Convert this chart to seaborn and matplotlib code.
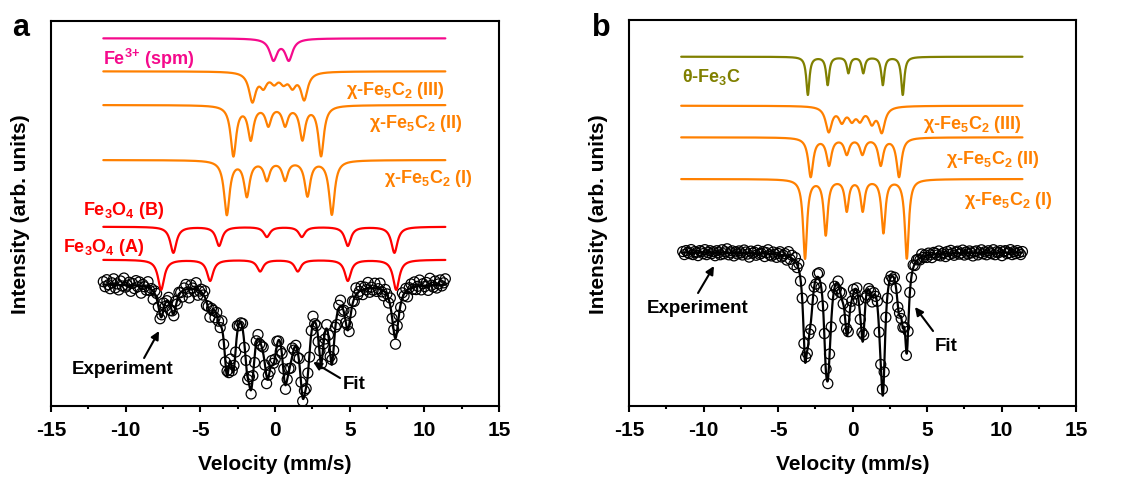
import numpy as np
import pandas as pd
import matplotlib
matplotlib.use('Agg')
import matplotlib.pyplot as plt
from matplotlib.ticker import MultipleLocator
import seaborn as sns

# ---- data: sextet / doublet line positions (mm/s), line depths, line widths ----
# panel a
spm_pos = [-0.11, 0.92]
spm_amp = [21, 21]
spm_w = 0.6
a_III_pos = [-1.52, -0.78, -0.06, 0.56, 1.16, 1.95]
a_III_amp = [29, 13, 9, 9, 13, 27]
a_III_w = 0.55
a_II_pos = [-2.79, -1.63, -0.45, 0.67, 1.83, 3.08]
a_II_amp = [50, 33, 19, 19, 33, 50]
a_II_w = 0.45
a_I_pos = [-3.23, -1.89, -0.55, 0.67, 2.17, 3.80]
a_I_amp = [54, 35, 19, 19, 35, 54]
a_I_w = 0.45
mag_B_pos = [-6.81, -3.75, -0.55, 1.79, 4.87, 7.99]
mag_B_amp = [26, 19, 10, 10, 19, 26]
mag_B_w = 0.5
mag_A_pos = [-7.63, -4.35, -1.0, 1.52, 4.87, 8.11]
mag_A_amp = [30, 21, 11.5, 11.5, 21, 30]
mag_A_w = 0.5
# weight of each component (spm, III, II, I, B, A) in the total fit
fit_wt_a = [1.7, 1.27, 1.27, 1.27, 1.0, 1.0]

# panel b
cem_pos = [-3.0, -1.67, -0.28, 0.72, 2.03, 3.37]
cem_amp = [38, 28, 16, 16, 28, 38]
cem_w = 0.25
b_III_pos = [-1.60, -0.72, -0.05, 0.50, 1.29, 1.96]
b_III_amp = [25, 14, 12, 12, 15, 25]
b_III_w = 0.5
b_II_pos = [-2.81, -1.58, -0.39, 0.66, 1.89, 3.12]
b_II_amp = [39, 27, 16, 16, 27, 39]
b_II_w = 0.4
b_I_pos = [-3.19, -1.80, -0.39, 0.68, 2.07, 3.64]
b_I_amp = [79, 55, 31, 31, 53, 79]
b_I_w = 0.32
# weight of each component (theta, III, II, I) in the total fit
fit_wt_b = [0.85, 1.6, 1.1, 1.1]

noise_a = [3, -2, 5, 0, -4, 2, 6, -3, 1, -5, 4, -1, 7, -2, 0, 3, -6, 2, -3, 5,
           -1, 4, -7, 2, 0, -3, 6, -2, 1, -8, 3, 5, -1, -4, 2, 7, -3, 0, 4, -5,
           1, -2, 6, -4, 3, 0, -6, 2, 5, -3, -9, 4, 1, -2, 7, -5, 0, 3, -1, 6,
           -4, 2, -3, 5, 0, -7, 3, 1, -2, 8, -4, 0, 5, -6, 2, -1, 4, -3, 6, -2,
           0, 5, -5, 3, -2, 9, -4, 1, -6, 2, 4, -3, 0, 6, -1, -7, 3, -2, 5, 1,
           -3, 4, -1, -8, 2, 6, -4, 0, 3, -5, 7, -2, 1, -6, 4, 0, -3, 5, -1, 2,
           -5, 3, 8, -2, 0, -4, 6, -1, 2, -7, 4, 1, -3, 5, -2, 0, -10, 3, 6, -4,
           2, -1, 5, -6, 1, 3, -3, 7, -2, 0, 4, -5, 2, -1, 6, -4, 1, -2, 5, -3,
           0, 6, -2, -5, 3, 1, -4, 8, -1, 2, -6, 4, 0, -3, 5, -2, 3, -7, 1, 4,
           -2, 5, -3, 0, 6, -4, 2, -1, 3, -5, 7, 0, -2, 4, -3, 1, 5, -1, 2, 6]
noise_b = [1, -2, 2, 0, -1, 3, -2, 1, 0, -3, 2, 1, -1, 3, -2, 0, 2, -1, 1, -3,
           2, 0, -2, 3, -1, 1, 4, -2, 0, 2, -3, 1, -1, 2, 0, -2, 3, 1, -1, -4,
           2, 0, 1, -2, 3, -1, 0, 2, -3, 1, 4, -1, -2, 2, 0, -3, 1, 3, -2, 0,
           2, -4, 5, -2, 3, -5, 4, -3, 6, -2, 1, -4, 5, -3, 2, -6, 4, 0, -5, 3,
           6, -2, -4, 3, 5, -3, 2, -5, 4, 1, -6, 3, -2, 5, 0, -4, 6, -3, 2, -1,
           4, -5, 3, 0, -3, 5, -2, 6, -4, 1, 3, -5, 2, -1, 4, -3, 0, 5, -2, 3,
           -4, 2, 1, -3, 2, 0, -2, 3, -1, 1, 2, -3, 0, 2, -1, 3, -2, 1, 0, -2,
           3, -1, 1, -2, 2, 0, -3, 2, 1, -1, 3, -2, 0, 1, -3, 2, -1, 3, 0, -2,
           1, 2, -1, 0, 3, -2, 1, -1, 2, 0, -3, 1, 2, -2, 0, 3, -1, 1, -2, 2,
           0, -1, 3, -2, 1, 0, 2, -3, 1, 2, -1, 0, 3, -2, 1, -1, 2, 0, -2, 1]


def lines(v, pos, amp, w):
    hw = (w / 2) ** 2
    out = np.zeros_like(v)
    for p, a in zip(pos, amp):
        out += a * hw / ((v - p) ** 2 + hw)
    return out


sns.set_theme(style='ticks')
plt.rcParams['font.family'] = ['Liberation Sans', 'DejaVu Sans']
plt.rcParams['font.weight'] = 'bold'
plt.rcParams['text.color'] = 'black'
plt.rcParams['axes.labelcolor'] = 'black'
plt.rcParams['xtick.color'] = 'black'
plt.rcParams['axes.unicode_minus'] = False
plt.rcParams['mathtext.fontset'] = 'custom'
plt.rcParams['mathtext.rm'] = 'Liberation Sans:bold'
plt.rcParams['mathtext.bf'] = 'Liberation Sans:bold'
plt.rcParams['mathtext.it'] = 'Liberation Sans:bold'
plt.rcParams['mathtext.default'] = 'bf'

ORANGE = '#FF8000'
RED = '#FF0000'
PINK = '#F50A8C'
OLIVE = '#808000'

fig = plt.figure(figsize=(11.32, 4.81), dpi=100)
ax_a = fig.add_axes([0.0451, 0.1538, 0.3958, 0.8004])
ax_b = fig.add_axes([0.5557, 0.1538, 0.3949, 0.8025])

v = np.linspace(-11.5, 11.4, 1500)

comps_a = [
    (spm_pos, spm_amp, spm_w, 367.7, PINK),
    (a_III_pos, a_III_amp, a_III_w, 334.7, ORANGE),
    (a_II_pos, a_II_amp, a_II_w, 301.0, ORANGE),
    (a_I_pos, a_I_amp, a_I_w, 246.0, ORANGE),
    (mag_B_pos, mag_B_amp, mag_B_w, 179.3, RED),
    (mag_A_pos, mag_A_amp, mag_A_w, 146.3, RED),
]
comps_b = [
    (cem_pos, cem_amp, cem_w, 349.3, OLIVE),
    (b_III_pos, b_III_amp, b_III_w, 300.3, ORANGE),
    (b_II_pos, b_II_amp, b_II_w, 268.7, ORANGE),
    (b_I_pos, b_I_amp, b_I_w, 227.0, ORANGE),
]


def total(x, comps, wts):
    return sum(k * lines(x, p, a, w) for (p, a, w, _, _), k in zip(comps, wts))


def draw_panel(ax, comps, base, wts, noise, vlo, vhi):
    for pos, amp, w, off, col in comps:
        sns.lineplot(x=v, y=off - lines(v, pos, amp, w), ax=ax, color=col,
                     lw=1.6, estimator=None, sort=False)
    ve = np.linspace(vlo, vhi, len(noise))
    exp = pd.DataFrame({'v': ve,
                        'y': base - total(ve, comps, wts) + np.array(noise)})
    sns.scatterplot(data=exp, x='v', y='y', ax=ax, marker='o', s=52,
                    facecolors='none', edgecolor='black', linewidth=0.9)
    sns.lineplot(x=v, y=base - total(v, comps, wts), ax=ax, color='black',
                 lw=1.6, estimator=None, sort=False)


draw_panel(ax_a, comps_a, 122.0, fit_wt_a, noise_a, -11.5, 11.4)
draw_panel(ax_b, comps_b, 153.7, fit_wt_b, noise_b, -11.4, 11.4)

ax_a.set_ylim(0, 385)
ax_b.set_ylim(0, 386)

for ax in (ax_a, ax_b):
    ax.set_xlim(-15, 15)
    ax.xaxis.set_major_locator(MultipleLocator(5))
    ax.xaxis.set_minor_locator(MultipleLocator(2.5))
    ax.set_yticks([])
    ax.tick_params(axis='x', which='major', direction='out', length=4,
                   width=1.5, labelsize=15, pad=6, colors='black')
    ax.tick_params(axis='x', which='minor', direction='out', length=2.5,
                   width=1.5, colors='black')
    for lab in ax.get_xticklabels():
        lab.set_fontweight('bold')
    for s in ax.spines.values():
        s.set_linewidth(1.5)
        s.set_color('black')
    ax.set_xlabel('Velocity (mm/s)', fontsize=15, fontweight='bold')
    ax.set_ylabel('Intensity (arb. units)', fontsize=15, fontweight='bold')
    ax.xaxis.set_label_coords(0.5, -0.125)
    ax.yaxis.set_label_coords(-0.047, 0.5)

# ---- labels panel a ----
lab_kw = dict(fontsize=13, fontweight='bold', va='center')
ax_a.text(-11.52, 348, 'Fe$^{3{+}}$ (spm)', color=PINK, ha='left', **lab_kw)
ax_a.text(11.39, 317, 'χ-Fe$_5$C$_2$ (III)', color=ORANGE, ha='right', **lab_kw)
ax_a.text(12.59, 284, 'χ-Fe$_5$C$_2$ (II)', color=ORANGE, ha='right', **lab_kw)
ax_a.text(13.26, 229, 'χ-Fe$_5$C$_2$ (I)', color=ORANGE, ha='right', **lab_kw)
ax_a.text(-12.86, 197, 'Fe$_3$O$_4$ (B)', color=RED, ha='left', **lab_kw)
ax_a.text(-14.2, 160, 'Fe$_3$O$_4$ (A)', color=RED, ha='left', **lab_kw)

arrow = dict(arrowstyle='-|>', color='black', lw=1.5, mutation_scale=12,
             shrinkA=0, shrinkB=0)
note_kw = dict(fontsize=13.5, fontweight='bold', ha='center', va='center',
               color='black')
ax_a.text(-10.18, 38, 'Experiment', **note_kw)
ax_a.annotate('', xy=(-7.77, 75), xytext=(-8.77, 48), arrowprops=arrow)
ax_a.text(5.29, 23, 'Fit', **note_kw)
ax_a.annotate('', xy=(2.55, 44), xytext=(4.35, 28), arrowprops=arrow)

# ---- labels panel b ----
ax_b.text(-11.44, 330, 'θ-Fe$_3$C', color=OLIVE, ha='left', **lab_kw)
ax_b.text(11.38, 283, 'χ-Fe$_5$C$_2$ (III)', color=ORANGE, ha='right', **lab_kw)
ax_b.text(12.58, 248, 'χ-Fe$_5$C$_2$ (II)', color=ORANGE, ha='right', **lab_kw)
ax_b.text(13.46, 207, 'χ-Fe$_5$C$_2$ (I)', color=ORANGE, ha='right', **lab_kw)
ax_b.text(-10.37, 99, 'Experiment', **note_kw)
ax_b.annotate('', xy=(-9.30, 140), xytext=(-10.37, 113), arrowprops=arrow)
ax_b.text(6.28, 61, 'Fit', **note_kw)
ax_b.annotate('', xy=(4.19, 99), xytext=(5.40, 75), arrowprops=arrow)

fig.text(0.011, 0.925, 'a', fontsize=22, fontweight='bold', color='black')
fig.text(0.523, 0.925, 'b', fontsize=22, fontweight='bold', color='black')

fig.savefig('out.png', dpi=100)
